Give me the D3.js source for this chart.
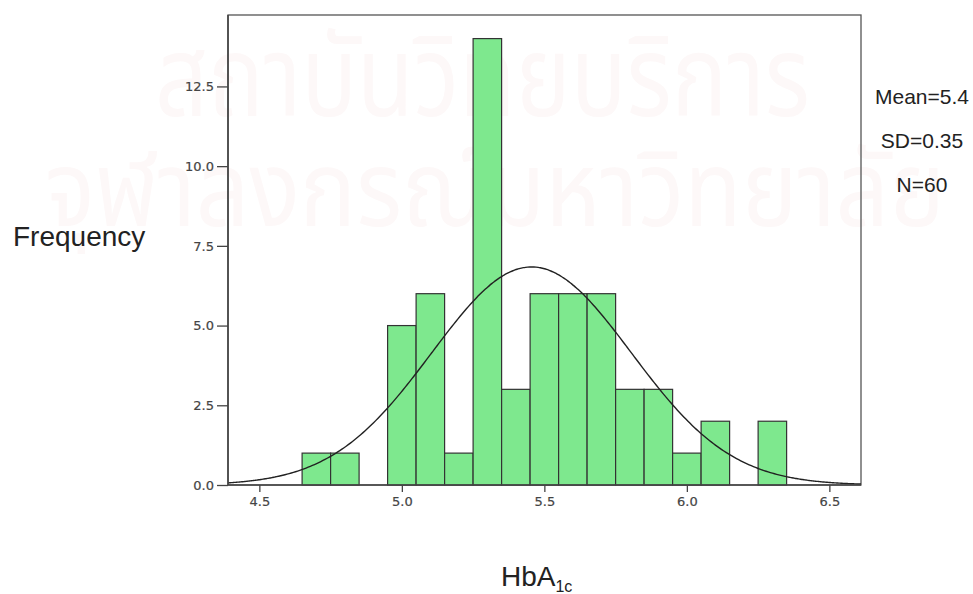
<!DOCTYPE html>
<html><head><meta charset="utf-8">
<script src="https://cdn.jsdelivr.net/npm/d3@7"></script>
<style>body{margin:0;background:#fff}svg{display:block}</style>
</head><body>
<svg id="c" width="973" height="594"></svg>
<script>
// Data
const binStarts = [4.65,4.75,4.85,4.95,5.05,5.15,5.25,5.35,5.45,5.55,5.65,5.75,5.85,5.95,6.05,6.15,6.25];
const counts    = [1,1,0,5,6,1,14,3,6,6,6,3,3,1,2,0,2];
const binWidth = 0.1;
const xTicks = [4.5,5.0,5.5,6.0,6.5];
const yTicks = [0,2.5,5,7.5,10,12.5];
const curveMean = 5.455, curveSD = 0.35, nTotal = 60;
const statLabels = ["Mean=5.4","SD=0.35","N=60"];
const watermark = ["สถาบันวิทยบริการ","จุฬาลงกรณ์มหาวิทยาลัย"];

const svg = d3.select("#c");
const L=228, R=861, T=15, B=485;
const x = d3.scaleLinear().domain([4.39,6.611]).range([L,R]);
const y = d3.scaleLinear().domain([0,14.74]).range([B,T]);

// watermark (very faint background text)
const wm = svg.append("g").attr("font-family","'Noto Sans Thai','Noto Sans',sans-serif").attr("fill","#fdf8f8");
wm.append("text").attr("x",155).attr("y",116).attr("font-size",112)
  .attr("textLength",655).attr("lengthAdjust","spacingAndGlyphs").text(watermark[0]);
wm.append("text").attr("x",45).attr("y",226).attr("font-size",106)
  .attr("textLength",900).attr("lengthAdjust","spacingAndGlyphs").text(watermark[1]);

// frame
svg.append("rect").attr("x",L).attr("y",T).attr("width",R-L).attr("height",B-T)
  .attr("fill","none").attr("stroke","#555").attr("stroke-width",1.3);

// bars
svg.append("g").selectAll("rect").data(binStarts.map((s,i)=>({s,c:counts[i]})).filter(d=>d.c>0))
  .join("rect")
  .attr("x",d=>x(d.s)).attr("width",d=>x(d.s+binWidth)-x(d.s))
  .attr("y",d=>y(d.c)).attr("height",d=>y(0)-y(d.c))
  .attr("fill","#7ee88e").attr("stroke","#333").attr("stroke-width",1.2);

// normal curve
const pts = d3.range(0,301).map(i=>{
  const v = 4.39 + (6.611-4.39)*i/300;
  const d = nTotal*binWidth/(curveSD*Math.sqrt(2*Math.PI))*Math.exp(-0.5*((v-curveMean)/curveSD)**2);
  return [v,d];
});
svg.append("path").datum(pts)
  .attr("d",d3.line().x(d=>x(d[0])).y(d=>y(d[1])).curve(d3.curveBasis))
  .attr("fill","none").attr("stroke","#222").attr("stroke-width",1.4);

// axes
const yAx = svg.append("g").attr("transform",`translate(${L},0)`)
  .call(d3.axisLeft(y).tickValues(yTicks).tickFormat(d3.format(".1f")).tickSize(11).tickPadding(3));
const xAx = svg.append("g").attr("transform",`translate(0,${B})`)
  .call(d3.axisBottom(x).tickValues(xTicks).tickFormat(d3.format(".1f")).tickSize(7).tickPadding(5));
[yAx,xAx].forEach(g=>{
  g.select(".domain").remove();
  g.selectAll("line").attr("stroke","#444").attr("stroke-width",1.3);
  g.selectAll("text").attr("font-family","'DejaVu Sans',sans-serif")
    .attr("font-size",13).attr("fill","#444").attr("stroke","#444").attr("stroke-width",0.2);
});
svg.append("line").attr("x1",L).attr("x2",R).attr("y1",B).attr("y2",B).attr("stroke","#444").attr("stroke-width",1.6);
svg.append("line").attr("x1",L).attr("x2",L).attr("y1",T).attr("y2",B).attr("stroke","#444").attr("stroke-width",1.6);

// stats
svg.append("g").selectAll("text").data(statLabels).join("text")
  .attr("x",922).attr("y",(d,i)=>104+i*44).attr("text-anchor","middle")
  .attr("font-family","'Liberation Sans',Arial,sans-serif").attr("font-size",21).attr("fill","#222")
  .text(d=>d);

// axis titles
svg.append("text").attr("x",13).attr("y",246)
  .attr("font-family","'Liberation Sans',Arial,sans-serif").attr("font-size",28).attr("fill","#222")
  .text("Frequency");
const t = svg.append("text").attr("x",501).attr("y",586)
  .attr("font-family","'Liberation Sans',Arial,sans-serif").attr("font-size",28).attr("fill","#222");
t.append("tspan").text("HbA");
t.append("tspan").attr("font-size",16).attr("dy",6).text("1c");
</script>
</body></html>
